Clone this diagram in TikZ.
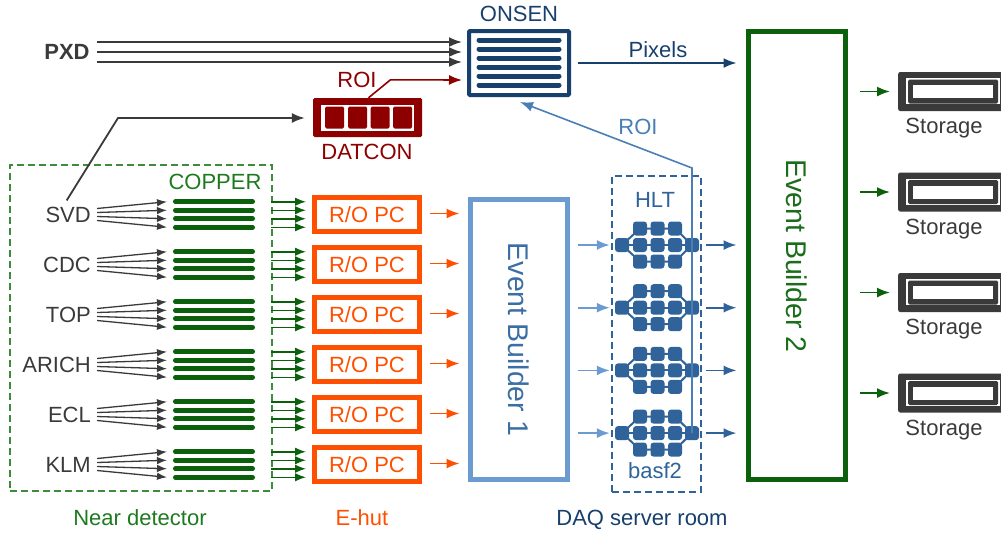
\documentclass[tikz,border=0pt]{standalone}
\usepackage{fontspec}
\setmainfont{Liberation Sans}
\usetikzlibrary{arrows.meta,calc}

\definecolor{ink}{HTML}{3A3A3A}
\definecolor{navy}{HTML}{17406D}
\definecolor{datred}{HTML}{8E0000}
\definecolor{copgreen}{HTML}{0B600B}
\definecolor{txtgreen}{HTML}{1E7A1E}
\definecolor{dashgreen}{HTML}{3C8C3C}
\definecolor{rored}{HTML}{FF4F00}
\definecolor{ebblue}{HTML}{6B9BD0}
\definecolor{ebtext}{HTML}{3B6EA5}
\definecolor{hltblue}{HTML}{2F6399}
\definecolor{roiblue}{HTML}{4A7FB5}
\definecolor{ebgreen}{HTML}{0B600B}
\definecolor{ebgtext}{HTML}{1A6E1A}

\newcommand\dqfont{\fontsize{22}{26}\selectfont}
\newcommand\ebfont{\fontsize{28.5}{32}\selectfont}

\tikzset{
  lab/.style={font=\dqfont, inner sep=0pt, text height=15.8pt, text depth=0pt},
  arr/.style={line width=1.8pt, -{Latex[length=13pt,width=10pt]}},
  fanarr/.style={line width=1.3pt, -{Latex[length=10pt,width=7.5pt]}},
  bar/.style={line width=5pt, line cap=round},
  hnode/.style={fill=hltblue, minimum size=14pt, inner sep=0pt, rounded corners=3pt},
  thickbox/.style={line width=5pt, inner sep=0pt},
}

\begin{document}
\begin{tikzpicture}[x=1pt,y=-1pt]
\useasboundingbox (0,0) rectangle (1001,533);
\clip (0,0) rectangle (1001,533);

% ---------- ONSEN ----------
\node[draw=navy, line width=4pt, minimum width=100pt, minimum height=64pt,
      inner sep=0pt, rounded corners=1pt] (onsen) at (519,63) {};
\foreach \yy in {40,49,58,67,76,85}
  \draw[navy, bar] (479,\yy) -- (559,\yy);
\node[lab, text=navy] (onsenlbl) at (519,14) {ONSEN};

% ---------- PXD ----------
\node[lab, font=\dqfont\bfseries, text=ink] (pxd) at (67,52) {PXD};
\foreach \dy in {-10,0,10}
  \draw[arr, ink] ($(pxd.east)+(7,\dy)$) -- ($(onsen.west)+(-5,\dy-11)$);

% ---------- DATCON ----------
\node[fill=datred, minimum width=109pt, minimum height=39pt, inner sep=0pt,
      rounded corners=1.5pt] (datcon) at (367.5,117.5) {};
\fill[white] (321,105) rectangle (414,131);
\foreach \xx in {325,348,370.5,393}
  \fill[datred, rounded corners=1.5pt] (\xx,106.5) rectangle ++(19,22);
\node[lab, text=datred] (datconlbl) at (367,152) {DATCON};
\node[lab, text=datred] (roired) at (357,80) {ROI};
\draw[datred, line width=1.6pt, -{Latex[length=13pt,width=10pt]}]
  ($(datcon.north)+(1,0)$) -- ++(22,-18) -- ($(onsen.west)+(-5,17)$);

% ---------- Near detector ----------
\node[draw=dashgreen, line width=1.5pt, dash pattern=on 7pt off 4pt,
      minimum width=262pt, minimum height=326pt, inner sep=0pt] (near) at (141,328) {};
\node[lab, text=txtgreen] (copper) at (215,182) {COPPER};

\foreach \nm [count=\i from 0] in {SVD,CDC,TOP,ARICH,ECL,KLM} {
  \pgfmathsetmacro\yy{214.5+50*\i}
  \node[lab, text=ink, anchor=east] (det\i) at (91,\yy) {\nm};
  \node[draw=rored, thickbox, minimum width=105pt, minimum height=34pt,
        text=rored, font=\dqfont, text height=15.8pt, text depth=0pt] (ro\i) at (367,\yy) {R/O PC};
  \foreach \s/\o in {-6/-12.75,-2/-4.25,2/4.25,6/12.75} {
    \draw[copgreen, bar] (175.5,\yy+\o) -- (252.5,\yy+\o);
    \draw[fanarr, ink] ($(det\i.east)+(6,\s)$) -- (167,\yy+\o);
    \draw[copgreen, line width=1.5pt, -{Latex[length=11pt,width=8.5pt]}]
      ($(ro\i.west)+(-41,\o)$) -- ($(ro\i.west)+(-6,\o)$);
  }
}

\draw[arr, ink] ($(det0.north)+(-1.5,-6)$) -- (118,118) -- ($(datcon.west)+(-8,0.5)$);

% ---------- Event Builder 1 ----------
\node[draw=ebblue, thickbox, minimum width=97pt, minimum height=280pt] (eb1) at (519,339.5) {};
\node[rotate=-90, text=ebtext, font=\ebfont, inner sep=0pt] (eb1lbl) at (eb1.center) {Event Builder 1};
\foreach \i in {0,...,5}
  \draw[arr, rored] ($(ro\i.east)+(7.5,-1)$) -- ($(ro\i.east -| eb1.west)+(-8.5,-1)$);

% ---------- HLT ----------
\node[draw=hltblue, line width=1.5pt, dash pattern=on 7pt off 4pt,
      minimum width=89pt, minimum height=316pt, inner sep=0pt] (hlt) at (656.5,334) {};
\node[lab, text=hltblue] (hltlbl) at (655,200) {HLT};
\node[lab, text=hltblue] (basf) at (655,471) {basf2};

% ---------- Event Builder 2 ----------
\node[draw=ebgreen, thickbox, minimum width=97pt, minimum height=448pt] (eb2) at (797,255.5) {};
\node[rotate=-90, text=ebgtext, font=\ebfont, inner sep=0pt] (eb2lbl) at (797,256) {Event Builder 2};

\foreach \j in {0,...,3} {
  \pgfmathsetmacro\cy{245+62.7*\j}
  \node[hnode] (hl\j) at (622,\cy) {};
  \node[hnode] (hr\j) at (692,\cy) {};
  \foreach \r/\dy in {t/-16.5,m/0,b/16.5}
    \foreach \c/\xx in {1/640,2/657.5,3/675}
      \node[hnode] (h\j\r\c) at (\xx,\cy+\dy) {};
  \foreach \r in {t,m,b}
    \draw[hltblue, line width=2pt] (hl\j.center) -- (h\j\r1.center) -- (h\j\r2.center)
      -- (h\j\r3.center) -- (hr\j.center);
  \draw[arr, ebblue] ($(eb1.east |- hl\j)+(7.5,0)$) -- ($(hl\j.west)+(-5,0)$);
  \draw[arr, hltblue] ($(hr\j.east)+(7,0)$) -- ($(hr\j -| eb2.west)+(-9.5,0)$);
}

% ROI feedback from HLT to ONSEN
\draw[roiblue, line width=1.6pt, -{Latex[length=13pt,width=10pt]}]
  (hr3.center) -- ($(hr0.center)+(0,-77)$) -- ($(onsen.south)+(1,5)$);
\node[lab, text=roiblue] (roiblue) at (638,127) {ROI};

% Pixels
\draw[arr, navy] ($(onsen.east)+(7,0)$) -- ($(onsen.east -| eb2.west)+(-9.5,0)$);
\node[lab, text=navy] (pixels) at (658,50) {Pixels};

% ---------- Storage ----------
\foreach \k in {0,...,3} {
  \pgfmathsetmacro\sy{91.5+100.5*\k}
  \node[fill=ink, rounded corners=2pt, minimum width=114pt, minimum height=39pt,
        inner sep=0pt, anchor=west] (st\k) at (898,\sy) {};
  \fill[white] (906,\sy-13.5) rectangle (999.5,\sy+12.5);
  \fill[ink, rounded corners=1.5pt] (908,\sy-12) rectangle (998,\sy+12);
  \fill[white] (913,\sy-6.5) rectangle (993,\sy+6.5);
  \node[lab, text=ink] (stl\k) at (944,\sy+34.5) {Storage};
  \draw[arr, copgreen] ($(eb2.east |- st\k.west)+(11.5,0)$) -- ($(st\k.west)+(-8,0)$);
}

% ---------- Location labels ----------
\node[lab, text=txtgreen] (loc1) at (140,518) {Near detector};
\node[lab, text=rored] (loc2) at (362,518) {E-hut};
\node[lab, text=navy] (loc3) at (642,518) {DAQ server room};
\end{tikzpicture}
\end{document}
